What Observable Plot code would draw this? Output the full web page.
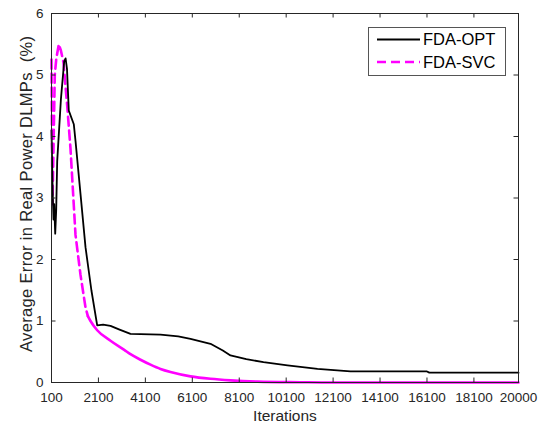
<!DOCTYPE html>
<html>
<head>
<meta charset="utf-8">
<script src="https://cdn.jsdelivr.net/npm/d3@7"></script>
<script src="https://cdn.jsdelivr.net/npm/@observablehq/plot@0.6"></script>
<style>
  html, body { margin: 0; padding: 0; background: #fff; }
  #chart { position: relative; width: 549px; height: 424px; }
</style>
</head>
<body>
<div id="chart"></div>
<script>
// ---- data ----
const optIter = [100,150,185,215,258,300,343,500,640,700,760,837,1050,1123,1549,1800,2047,2300,2614,3000,3466,4744,5500,6023,6875,7400,7727,8400,9133,10156,11434,12840,16100,16200,20000];
const optVal  = [4.1,3.1,2.65,2.9,2.42,2.8,3.6,4.6,5.22,5.27,5.1,4.42,4.2,3.93,2.2,1.5,0.93,0.94,0.92,0.86,0.79,0.78,0.75,0.71,0.63,0.52,0.44,0.38,0.33,0.28,0.22,0.18,0.18,0.16,0.16];

const svcDashIter = [100,140,170,240,300,411,500,611,769,910,1123,1336,1549,1650];
const svcDashVal  = [5.25,2.9,3.5,5.0,5.25,5.5,5.4,5.2,4.5,3.8,2.4,1.75,1.22,1.08];
const svcSolidIter = [1650,1762,2047,2614,3200,3466,3892,4318,4744,5170,6023,6875,7727,8878,10710,12000,20000];
const svcSolidVal  = [1.08,1.0,0.85,0.68,0.53,0.46,0.37,0.29,0.22,0.17,0.10,0.06,0.035,0.015,0.005,0,0];

const xTicks = [100,2100,4100,6100,8100,10100,12100,14100,16100,18100,20000];
const yTicks = [0,1,2,3,4,5,6];
const seriesNames = ["FDA-OPT", "FDA-SVC"];
const xLabel = "Iterations";
const yLabel = "Average Error in Real Power DLMPs  (%)";

// ---- tables ----
const opt = optIter.map((x, i) => ({x, y: optVal[i]}));
const svcDash = svcDashIter.map((x, i) => ({x, y: svcDashVal[i]}));
const svcSolid = svcSolidIter.map((x, i) => ({x, y: svcSolidVal[i]}));

const W = 549, H = 424, mL = 51, mR = 31, mT = 13, mB = 42;
const frameW = W - mL - mR, frameH = H - mT - mB, tickLen = 4.5;
const axisColor = "#262626";
const chart = Plot.plot({
  width: W,
  height: H,
  marginLeft: mL,
  marginRight: mR,
  marginTop: mT,
  marginBottom: mB,
  style: {fontFamily: "'Liberation Sans', Arial, sans-serif", fontSize: "13.5px", color: axisColor, background: "#fff"},
  x: {domain: [100, 20000]},
  y: {domain: [0, 6]},
  marks: [
    Plot.line(svcDash, {x: "x", y: "y", stroke: "#ff00ff", strokeWidth: 2.6, strokeDasharray: "9,5"}),
    Plot.line(svcSolid, {x: "x", y: "y", stroke: "#ff00ff", strokeWidth: 2.6, curve: "monotone-x"}),
    Plot.line(opt, {x: "x", y: "y", stroke: "#000", strokeWidth: 1.8}),
    // inward ticks on all four sides
    Plot.ruleX(xTicks, {x: d => d, insetTop: frameH - tickLen, stroke: axisColor}),
    Plot.ruleX(xTicks, {x: d => d, insetBottom: frameH - tickLen, stroke: axisColor}),
    Plot.ruleY(yTicks, {y: d => d, insetRight: frameW - tickLen, stroke: axisColor}),
    Plot.ruleY(yTicks, {y: d => d, insetLeft: frameW - tickLen, stroke: axisColor}),
    Plot.axisX(xTicks, {anchor: "bottom", tickSize: 0, tickPadding: 9.5, tickFormat: d => String(d), label: null}),
    Plot.axisY(yTicks, {anchor: "left", tickSize: 0, tickPadding: 8, tickFormat: d => String(d), label: null}),
    Plot.frame({stroke: axisColor, strokeWidth: 1})
  ]
});
document.getElementById("chart").appendChild(chart);

// ---- labels and legend ----
const svg = d3.select(chart);
svg.append("text")
  .attr("x", 285).attr("y", 421)
  .attr("text-anchor", "middle")
  .attr("font-size", "15.5px")
  .attr("fill", axisColor)
  .text(xLabel);
svg.append("text")
  .attr("transform", "translate(32,194) rotate(-90)")
  .attr("text-anchor", "middle")
  .attr("font-size", "16.5px")
  .attr("fill", axisColor)
  .attr("textLength", 316)
  .attr("lengthAdjust", "spacing")
  .text(yLabel);

const lg = svg.append("g");
lg.append("rect").attr("x", 368.5).attr("y", 27.5).attr("width", 137).attr("height", 48)
  .attr("fill", "#fff").attr("stroke", "#555").attr("stroke-width", 1);
const styles = [{stroke: "#000", dash: null, w: 1.8}, {stroke: "#ff00ff", dash: "9,5", w: 2.6}];
seriesNames.forEach((name, i) => {
  const cy = 39.5 + i * 22.5;
  lg.append("line").attr("x1", 377).attr("x2", 420).attr("y1", cy).attr("y2", cy)
    .attr("stroke", styles[i].stroke).attr("stroke-width", styles[i].w)
    .attr("stroke-dasharray", styles[i].dash);
  lg.append("text").attr("x", 423).attr("y", cy).attr("dy", "0.36em")
    .attr("text-anchor", "start")
    .attr("font-size", "16.5px").attr("fill", "#000").text(name);
});
</script>
</body>
</html>
